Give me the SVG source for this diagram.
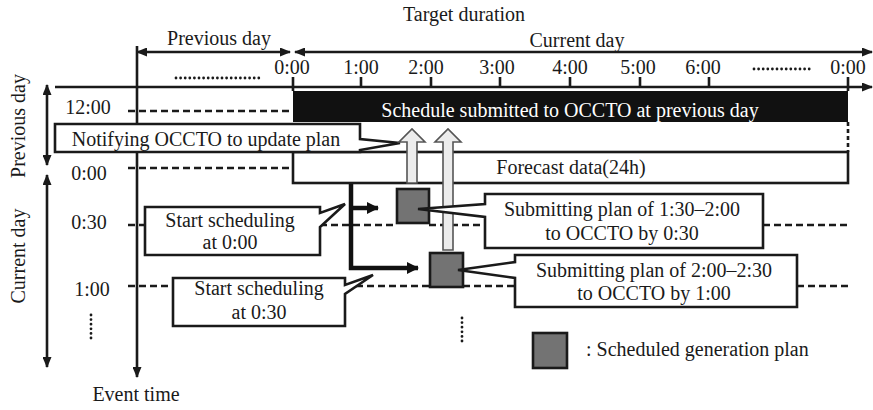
<svg xmlns="http://www.w3.org/2000/svg" width="873" height="410" viewBox="0 0 873 410">
<style>
text{font-family:"Liberation Serif","Times New Roman",serif;font-size:20px;fill:#1a1a1a}
.c{text-anchor:middle}
.w{fill:#fff}
.ln{stroke:#1a1a1a;stroke-width:2.6;fill:none}
.dash{stroke:#1a1a1a;stroke-width:2.6;stroke-dasharray:7 4;fill:none}
.vdash{stroke:#1a1a1a;stroke-width:2.6;stroke-dasharray:4 3;fill:none}
.dot{stroke:#1a1a1a;stroke-width:2.8;stroke-dasharray:0 4.6;stroke-linecap:round;fill:none}
.bold{stroke:#111;stroke-width:4.5;fill:none}
.box{fill:#fff;stroke:#1a1a1a;stroke-width:2.6}
.plan{fill:#737373;stroke:#1a1a1a;stroke-width:2.6}
.up{fill:#ececec;stroke:#555;stroke-width:1.6}
</style>
<defs>
<marker id="ah" markerWidth="11" markerHeight="9" refX="10" refY="4.5" orient="auto-start-reverse" markerUnits="userSpaceOnUse"><path d="M0,0 L11,4.5 L0,9 Z" fill="#1a1a1a"/></marker>
<marker id="ahb" markerWidth="12" markerHeight="12" refX="11" refY="6" orient="auto" markerUnits="userSpaceOnUse"><path d="M0,0 L12,6 L0,12 Z" fill="#111"/></marker>
</defs>

<g id="title">
<text class="c" x="464" y="21">Target duration</text>
<text class="c" x="219" y="45">Previous day</text>
<text class="c" x="577" y="47">Current day</text>
</g>

<g id="axes">
<line class="ln" x1="137" y1="52" x2="290" y2="52" marker-start="url(#ah)" marker-end="url(#ah)"/>
<line class="ln" x1="295" y1="52" x2="872" y2="52" marker-start="url(#ah)" marker-end="url(#ah)"/>
<line class="ln" x1="55" y1="87" x2="872" y2="87" marker-end="url(#ah)"/>
<line class="ln" x1="137" y1="46" x2="137" y2="377" marker-end="url(#ah)"/>
<line class="ln" x1="47" y1="85" x2="47" y2="165" marker-start="url(#ah)" marker-end="url(#ah)"/>
<line class="ln" x1="47" y1="175" x2="47" y2="367" marker-start="url(#ah)" marker-end="url(#ah)"/>
<path class="ln" d="M293,77V91M361,77V87M431,77V87M500,77V87M570,77V87M640,77V87M709,77V87M848,77V91"/>
<line class="dot" x1="176" y1="78" x2="260" y2="78"/>
<line class="dot" x1="754" y1="69" x2="810" y2="69"/>
<line class="dot" x1="91" y1="315" x2="91" y2="341"/>
<line class="dot" x1="462" y1="318" x2="462" y2="345"/>
</g>

<g id="labels">
<text class="c" x="292" y="74">0:00</text>
<text class="c" x="361" y="74">1:00</text>
<text class="c" x="426" y="74">2:00</text>
<text class="c" x="497" y="74">3:00</text>
<text class="c" x="570" y="74">4:00</text>
<text class="c" x="638" y="74">5:00</text>
<text class="c" x="703" y="74">6:00</text>
<text class="c" x="848" y="74">0:00</text>
<text class="c" x="88" y="114">12:00</text>
<text class="c" x="89" y="180">0:00</text>
<text class="c" x="89" y="229">0:30</text>
<text class="c" x="92" y="296">1:00</text>
<text class="c" transform="translate(25,126) rotate(-90)">Previous day</text>
<text class="c" transform="translate(25,256) rotate(-90)">Current day</text>
<text class="c" x="136" y="401">Event time</text>
</g>

<g id="connectors">
<path class="dash" d="M128,111H292M128,168H292M128,225H145M320,225H397M429,225H485M763,225H848M128,286H173M345,286H430M463,286H515M797,286H848"/>
<line class="vdash" x1="848" y1="122" x2="848" y2="152"/>
<path class="bold" d="M351,183V268H418" marker-end="url(#ahb)"/>
<path class="bold" d="M351,208H378" marker-end="url(#ahb)"/>
</g>

<g id="schedule">
<rect x="293" y="91" width="555" height="31" fill="#111"/>
<text class="c w" x="570" y="117">Schedule submitted to OCCTO at previous day</text>
</g>

<g id="forecast">
<rect class="box" x="293" y="152" width="555" height="31"/>
<text class="c" x="571" y="174">Forecast data(24h)</text>
</g>

<g id="notify">
<path class="box" d="M55,124H360V139L400,143L360,150V152H55Z"/>
<text class="c" x="206" y="146">Notifying OCCTO to update plan</text>
</g>

<g id="start0">
<path class="box" d="M145,207H320V213L345,204L320,227V255H145Z"/>
<text class="c" x="230" y="227">Start scheduling</text>
<text class="c" x="230" y="249">at 0:00</text>
</g>

<g id="start30">
<path class="box" d="M173,278H345V285L373,275L345,294V326H173Z"/>
<text class="c" x="259" y="295">Start scheduling</text>
<text class="c" x="259" y="319">at 0:30</text>
</g>

<g id="plan1">
<rect class="plan" x="397" y="189" width="32" height="34"/>
</g>
<g id="plan2">
<rect class="plan" x="430" y="253" width="33" height="34"/>
</g>

<g id="uparrows">
<path class="up" d="M407,183V142H399L412,129L425,142H417V183Z"/>
<path class="up" d="M443,250V142H435L448,129L461,142H453V250Z"/>
</g>

<g id="submit1">
<path class="box" d="M485,194H763V248H485V217L418,209L485,204Z"/>
<text class="c" x="622" y="216">Submitting plan of 1:30–2:00</text>
<text class="c" x="622" y="240">to OCCTO by 0:30</text>
</g>

<g id="submit2">
<path class="box" d="M515,255H797V307H515V278L458,270L515,262Z"/>
<text class="c" x="654" y="277">Submitting plan of 2:00–2:30</text>
<text class="c" x="654" y="300">to OCCTO by 1:00</text>
</g>

<g id="legend">
<rect class="plan" x="533" y="333" width="34" height="35"/>
<text x="586" y="356">: Scheduled generation plan</text>
</g>
</svg>
